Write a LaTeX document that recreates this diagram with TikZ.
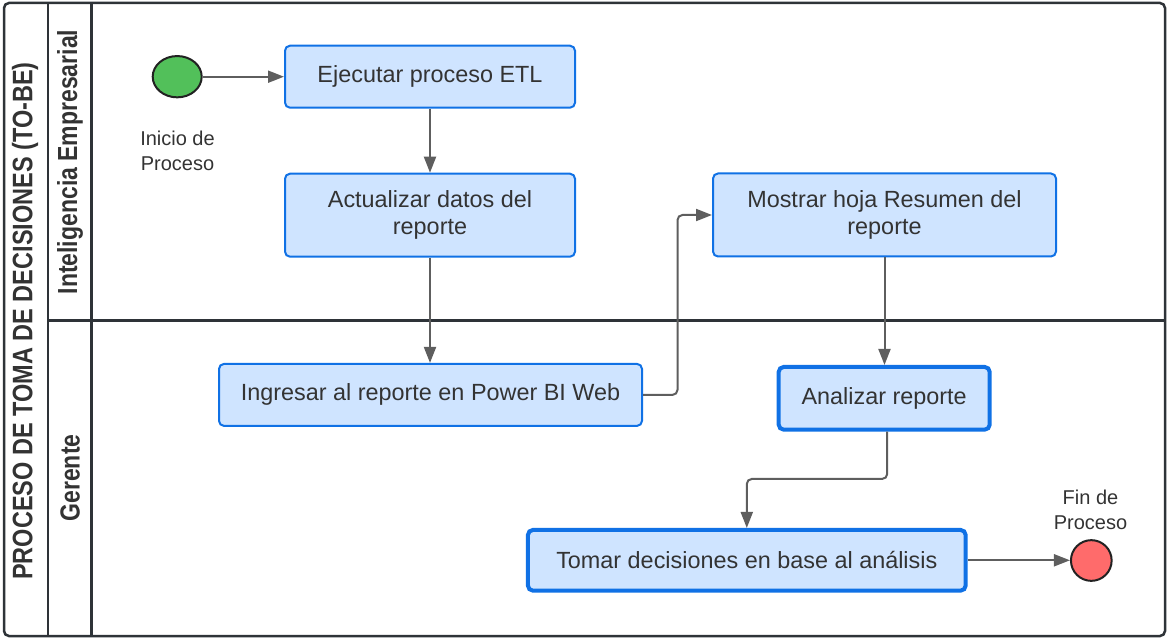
\documentclass[tikz,border=0pt]{standalone}
\usepackage{fontspec}
\setmainfont{Liberation Sans}
\usetikzlibrary{arrows.meta,calc,shapes.geometric}
\definecolor{framec}{HTML}{2E3338}
\definecolor{taskfill}{HTML}{CFE4FF}
\definecolor{taskline}{HTML}{1071E5}
\definecolor{flowc}{HTML}{5E5E5E}
\definecolor{txt}{HTML}{333333}
\definecolor{startc}{HTML}{52C05A}
\definecolor{endc}{HTML}{FF6B6B}
\definecolor{eventline}{HTML}{222222}

% header text: slightly taller glyphs
\newcommand{\hdrtext}[1]{\scalebox{1}[1.2]{#1}}

\begin{document}
\begin{tikzpicture}[x=1pt,y=-1pt,
  task/.style={draw=taskline, fill=taskfill, line width=2pt, rounded corners=5pt,
    text=txt, align=center, font=\fontsize{23.4}{27}\selectfont, inner sep=0pt},
  keytask/.style={task, line width=4pt},
  flow/.style={draw=flowc, line width=2pt, rounded corners=5pt,
    -{Triangle[length=16pt,width=12pt]}},
  lbl/.style={text=txt, align=center, font=\fontsize{20}{25}\selectfont},
  hdr/.style={text=txt, font=\bfseries\fontsize{23}{27}\selectfont, rotate=90, inner sep=0pt},
  lane/.style={draw=framec, line width=2.5pt},
  event/.style={draw=eventline, line width=2pt, inner sep=0pt}]

\useasboundingbox (0,0) rectangle (1168,639);

% pool and lanes
\draw[lane, rounded corners=5pt] (4,3) rectangle (1165,636);
\draw[lane] (48,3) -- (48,636);
\draw[lane] (91.5,3) -- (91.5,636);
\draw[lane] (48,320.5) -- (1165,320.5);

\node[hdr, font=\bfseries\fontsize{23.5}{27}\selectfont] (pool) at (25,321) {\hdrtext{PROCESO DE TOMA DE DECISIONES (TO-BE)}};
\node[hdr] (laneA) at (70,162) {\hdrtext{Inteligencia Empresarial}};
\node[hdr] (laneB) at (70,478) {\hdrtext{Gerente}};

% events
\node[event, ellipse, fill=startc, minimum width=49pt, minimum height=41.3pt] (start) at (177.2,76.7) {};
\node[lbl] (startlbl) at (177.5,151) {Inicio de\\Proceso};
\node[event, circle, fill=endc, minimum size=40.7pt] (fin) at (1091.3,560.5) {};
\node[lbl] (finlbl) at (1090.5,509.5) {Fin de\\Proceso};

% tasks
\node[task, minimum width=290pt, minimum height=62pt] (etl) at (430,76.7) {Ejecutar proceso ETL};
\node[task, minimum width=290pt, minimum height=83pt] (act) at (430,215.2) {Actualizar datos del\\reporte};
\node[task, minimum width=343pt, minimum height=83pt] (most) at (884.5,215) {Mostrar hoja Resumen del\\reporte};
\node[task, minimum width=423pt, minimum height=62pt] (ing) at (430.5,394.9) {Ingresar al reporte en Power BI Web};
\node[keytask, minimum width=211pt, minimum height=62.7pt] (ana) at (884.2,398.3) {Analizar reporte};
\node[keytask, minimum width=437.7pt, minimum height=60.7pt] (tom) at (746.8,560.3) {Tomar decisiones en base al análisis};

% sequence flows
\draw[flow] (start) -- (etl);
\draw[flow] (etl) -- (act);
\draw[flow] (act.south) -- (act.south |- ing.north);
\draw[flow] (ing.east) -- ++(34.5,0) |- (most.west);
\draw[flow] (most.south) -- (most.south |- ana.north);
\draw[flow] ([xshift=3pt]ana.south) -- ++(0,47.3) -| (tom.north);
\draw[flow] (tom.east) -- (tom.east -| fin.west);
\end{tikzpicture}
\end{document}
